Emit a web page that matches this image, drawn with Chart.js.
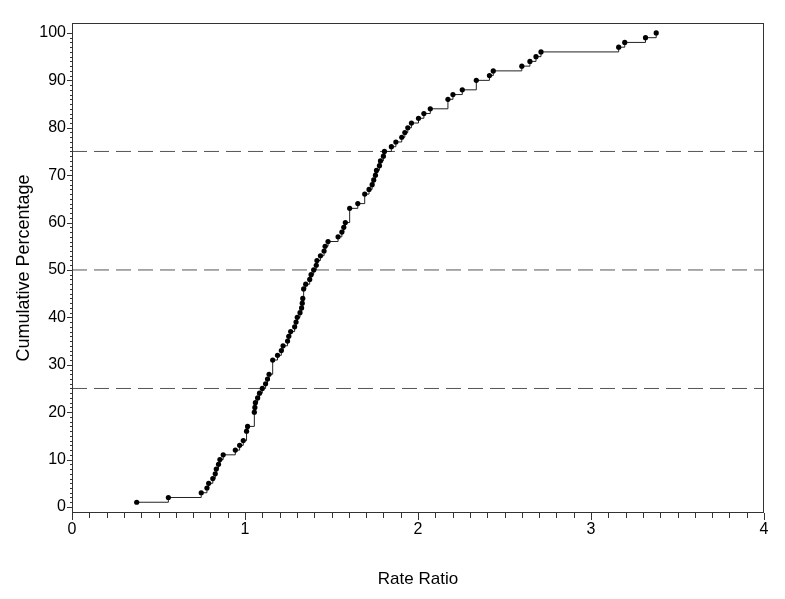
<!DOCTYPE html>
<html>
<head>
<meta charset="utf-8">
<script src="https://cdn.jsdelivr.net/npm/chart.js@4.4.1/dist/chart.umd.min.js"></script>
<style>
  html, body { margin: 0; padding: 0; background: #fff; }
  #wrap { width: 785px; height: 599px; }
</style>
</head>
<body>
<div id="wrap"><canvas id="chart" width="785" height="599"></canvas></div>
<script>
// empirical cumulative distribution of the rate ratios
const rateRatio = [
  0.374, 0.557, 0.747, 0.780, 0.790, 0.814, 0.828, 0.834, 0.847, 0.855,
  0.874, 0.944, 0.969, 0.990, 1.009, 1.015, 1.054, 1.057, 1.060, 1.073,
  1.084, 1.100, 1.119, 1.130, 1.139, 1.160, 1.188, 1.210, 1.220, 1.246,
  1.253, 1.264, 1.287, 1.295, 1.302, 1.318, 1.327, 1.331, 1.334, 1.339,
  1.351, 1.374, 1.382, 1.397, 1.412, 1.416, 1.436, 1.457, 1.463, 1.480,
  1.538, 1.560, 1.571, 1.580, 1.605, 1.652, 1.692, 1.717, 1.735, 1.744,
  1.754, 1.760, 1.777, 1.783, 1.800, 1.806, 1.846, 1.872, 1.906, 1.924,
  1.941, 1.962, 2.003, 2.034, 2.071, 2.173, 2.202, 2.256, 2.337, 2.413,
  2.435, 2.600, 2.647, 2.682, 2.711, 3.160, 3.195, 3.315, 3.377
];
const cumPct = [
  1, 2, 3, 4, 5, 6, 7, 8, 9, 10,
  11, 12, 13, 14, 16, 17, 20, 21, 22, 23,
  24, 25, 26, 27, 28, 31, 32, 33, 34, 35,
  36, 37, 38, 39, 40, 41, 42, 43, 44, 46,
  47, 48, 49, 50, 51, 52, 53, 54, 55, 56,
  57, 58, 59, 60, 63, 64, 66, 67, 68, 69,
  70, 71, 72, 73, 74, 75, 76, 77, 78, 79,
  80, 81, 82, 83, 84, 86, 87, 88, 90, 91,
  92, 93, 94, 95, 96, 97, 98, 99, 100
];
const refLevels = [25, 50, 75];
const xTicks = [0, 1, 2, 3, 4];
const yTicks = [0, 10, 20, 30, 40, 50, 60, 70, 80, 90, 100];
const xMinorStep = 0.1;
const yMinorStep = 1;

const tickFont = { family: "'Liberation Sans Narrow', 'Arial Narrow', sans-serif", size: 16 };
const titleFont = { family: "'Liberation Sans Narrow', 'Arial Narrow', sans-serif", size: 17 };

const points = rateRatio.map((x, i) => ({ x: x, y: cumPct[i] }));

const refSets = refLevels.map(level => ({
  data: [{ x: xTicks[0], y: level }, { x: xTicks[xTicks.length - 1], y: level }],
  showLine: true,
  borderColor: '#555',
  borderWidth: 1,
  borderDash: [15, 7],
  pointRadius: 0,
  order: 2
}));

// box around the plot plus major/minor tick marks
const framePlugin = {
  id: 'frame',
  afterDraw(chart) {
    const { ctx, chartArea: a, scales: { x, y } } = chart;
    ctx.save();
    ctx.strokeStyle = '#333';
    ctx.lineWidth = 1;
    ctx.strokeRect(Math.round(a.left) + 0.5, Math.round(a.top) + 0.5,
      Math.round(a.right - a.left) - 1, Math.round(a.bottom - a.top) - 1);

    ctx.beginPath();
    const x0 = xTicks[0], x1 = xTicks[xTicks.length - 1];
    const nx = Math.round((x1 - x0) / xMinorStep);
    for (let i = 0; i <= nx; i++) {
      const v = x0 + i * xMinorStep;
      const px = Math.round(x.getPixelForValue(v)) + 0.5;
      const len = i % 10 === 0 ? 7 : 5;
      ctx.moveTo(px, a.bottom);
      ctx.lineTo(px, a.bottom + len);
    }
    const y0 = yTicks[0], y1 = yTicks[yTicks.length - 1];
    const ny = Math.round((y1 - y0) / yMinorStep);
    for (let i = 0; i <= ny; i++) {
      const v = y0 + i * yMinorStep;
      const py = Math.round(y.getPixelForValue(v)) + 0.5;
      const len = i % 10 === 0 ? 5 : 2;
      ctx.moveTo(a.left, py);
      ctx.lineTo(a.left - len, py);
    }
    ctx.stroke();
    ctx.restore();
  }
};

new Chart(document.getElementById('chart'), {
  type: 'scatter',
  data: {
    datasets: [{
      data: points,
      showLine: true,
      stepped: 'before',
      borderColor: '#222',
      borderWidth: 1,
      pointRadius: 2.6,
      pointBackgroundColor: '#000',
      pointBorderWidth: 0,
      order: 1
    }, ...refSets]
  },
  options: {
    responsive: false,
    animation: false,
    layout: { padding: { top: 23, right: 21, left: 0, bottom: 0 } },
    plugins: { legend: { display: false }, tooltip: { enabled: false } },
    scales: {
      x: {
        type: 'linear',
        min: 0,
        max: 4,
        afterBuildTicks: s => { s.ticks = xTicks.map(v => ({ value: v })); },
        afterFit: s => { s.height = 86; },
        grid: { display: false, drawTicks: false },
        border: { display: false },
        ticks: { color: '#000', font: tickFont, padding: 7, maxRotation: 0 },
        title: { display: true, text: 'Rate Ratio', color: '#000', font: titleFont, padding: 9 }
      },
      y: {
        type: 'linear',
        min: -1.27,
        max: 102.1,
        afterBuildTicks: s => { s.ticks = yTicks.map(v => ({ value: v })); },
        afterFit: s => { s.width = 72; },
        grid: { display: false, drawTicks: false },
        border: { display: false },
        ticks: { color: '#000', font: tickFont, padding: 6 },
        title: { display: true, text: 'Cumulative Percentage', color: '#000', font: { family: titleFont.family, size: 18 }, padding: 13 }
      }
    }
  },
  plugins: [framePlugin]
});
</script>
</body>
</html>
